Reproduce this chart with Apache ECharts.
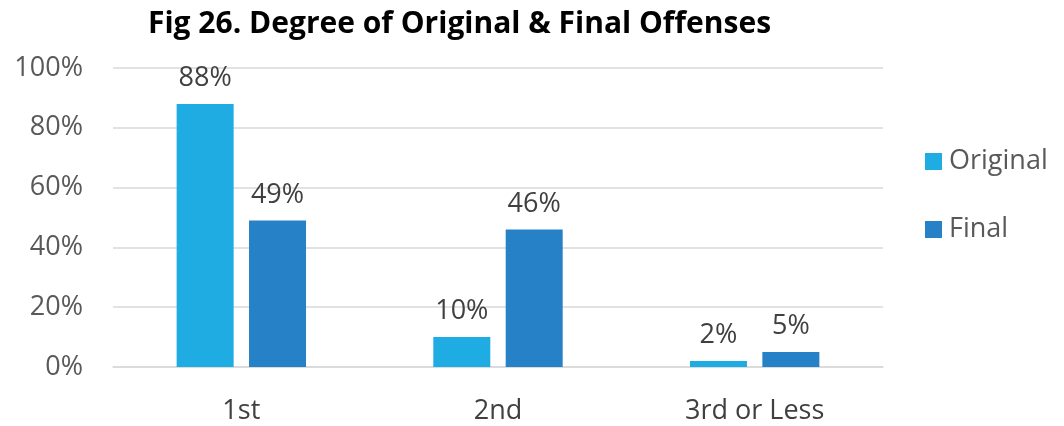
<!DOCTYPE html>
<html>
<head>
<meta charset="utf-8">
<script src="https://cdn.jsdelivr.net/npm/echarts@6/dist/echarts.min.js"></script>
<style>
  html, body { margin: 0; padding: 0; background: #fff; }
  #chart { width: 1064px; height: 426px; }
</style>
</head>
<body>
<div id="chart"></div>
<script>
// data
const categories = ["1st", "2nd", "3rd or Less"];
const originalValues = [88, 10, 2];
const finalValues = [49, 46, 5];
const seriesNames = ["Original", "Final"];

const myChart = echarts.init(document.getElementById("chart"));

const labelStyle = {
  show: true,
  position: "top",
  distance: 12,
  formatter: (p) => p.value + "%",
  color: "#404040",
  fontSize: 27,
  fontFamily: "Open Sans",
};

const options = {
  animation: false,
  title: {
    text: "Fig 26. Degree of Original & Final Offenses",
    left: 143,
    top: 4,
    textStyle: {
      fontFamily: "Open Sans",
      fontWeight: "bold",
      fontSize: 30,
      color: "#000",
    },
  },
  legend: {
    orient: "vertical",
    left: 925,
    top: 148,
    padding: 0,
    itemWidth: 17,
    itemHeight: 17,
    itemGap: 41,
    icon: "rect",
    textStyle: { fontFamily: "Open Sans", fontSize: 27, color: "#595959", padding: [0, 0, 0, 2] },
    data: seriesNames,
  },
  grid: { left: 113, right: 181, top: 68, bottom: 59 },
  xAxis: {
    type: "category",
    data: categories,
    axisLine: { lineStyle: { color: "#d9d9d9", width: 1.5 } },
    axisTick: { show: false },
    axisLabel: { fontFamily: "Open Sans", fontSize: 27, color: "#404040", margin: 31 },
  },
  yAxis: {
    type: "value",
    min: 0,
    max: 100,
    interval: 20,
    axisLine: { show: false },
    axisTick: { show: false },
    splitLine: { lineStyle: { color: "#d9d9d9", width: 1.5 } },
    axisLabel: {
      formatter: "{value}%",
      fontFamily: "Open Sans",
      fontSize: 27,
      color: "#595959",
      margin: 30,
    },
  },
  series: [
    {
      name: seriesNames[0],
      type: "bar",
      data: originalValues,
      barWidth: 57,
      barGap: "27%",
      itemStyle: { color: "#1eace3" },
      label: labelStyle,
    },
    {
      name: seriesNames[1],
      type: "bar",
      data: finalValues,
      barWidth: 57,
      itemStyle: { color: "#2781c6" },
      label: labelStyle,
    },
  ],
};

myChart.setOption(options);
</script>
</body>
</html>
